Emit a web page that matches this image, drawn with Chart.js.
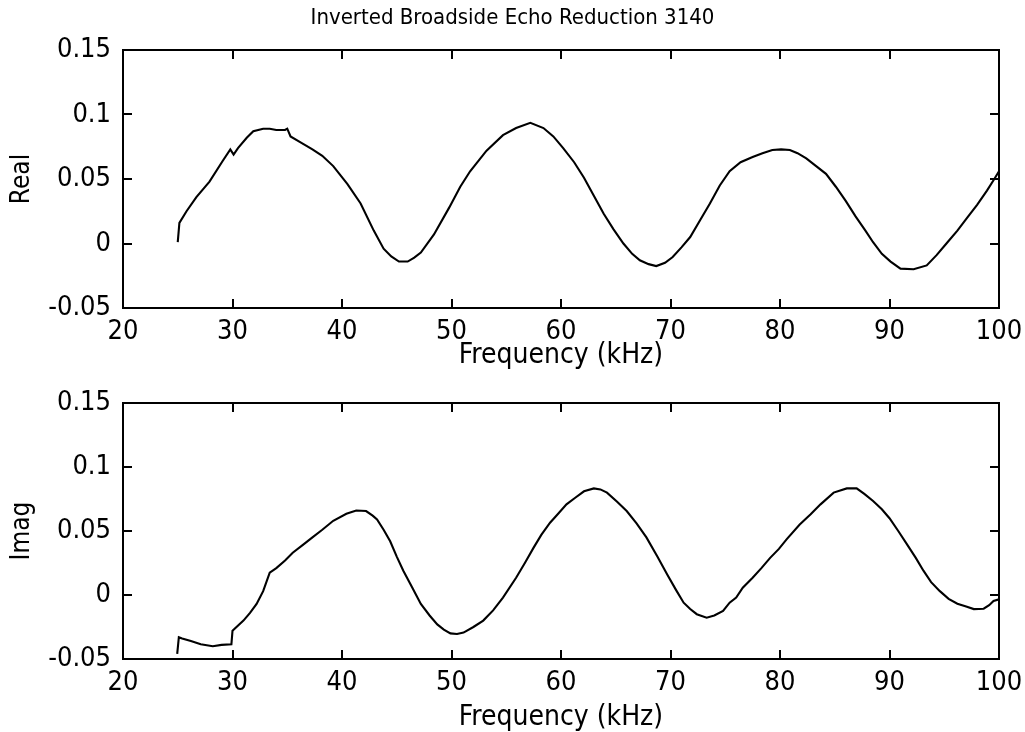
<!DOCTYPE html>
<html>
<head>
<meta charset="utf-8">
<script src="https://cdn.jsdelivr.net/npm/chart.js@4/dist/chart.umd.min.js"></script>
<style>
  html, body { margin: 0; padding: 0; background: #fff; }
  #wrap { position: relative; width: 1025px; height: 732px; }
  #c1, #c2 { position: absolute; left: 0; }
  #c1 { top: 0; }
  #c2 { top: 380px; }
</style>
</head>
<body>
<div id="wrap">
  <canvas id="c1" width="1025" height="380"></canvas>
  <canvas id="c2" width="1025" height="352"></canvas>
</div>
<script>
// frequency (kHz) and real part
const freqReal = [25.0, 25.15, 25.8, 26.7, 27.9, 29.1, 29.8, 30.1, 30.5, 31.3, 31.9, 32.8, 33.4, 34.0, 34.8, 35.0, 35.3, 36.1, 37.3, 38.2, 39.2, 40.5, 41.7, 42.9, 43.8, 44.5, 45.2, 46.0, 46.6, 47.2, 48.4, 49.8, 50.8, 51.7, 53.2, 54.7, 55.9, 57.2, 58.4, 59.3, 60.2, 61.2, 62.1, 63.0, 63.9, 64.8, 65.7, 66.5, 67.2, 68.0, 68.7, 69.5, 70.2, 71.0, 71.8, 72.7, 73.6, 74.5, 75.4, 76.4, 77.5, 78.4, 79.3, 80.1, 80.9, 81.6, 82.4, 83.3, 84.2, 85.1, 86.0, 86.9, 87.8, 88.5, 89.3, 90.1, 91.0, 92.2, 93.4, 94.3, 95.2, 96.2, 97.1, 98.0, 98.9, 99.5, 100];
const realPart = [0.001, 0.016, 0.025, 0.036, 0.048, 0.064, 0.073, 0.069, 0.074, 0.082, 0.087, 0.089, 0.089, 0.088, 0.088, 0.089, 0.083, 0.079, 0.073, 0.068, 0.060, 0.046, 0.031, 0.010, -0.004, -0.010, -0.014, -0.014, -0.011, -0.007, 0.007, 0.028, 0.044, 0.056, 0.072, 0.084, 0.0895, 0.0935, 0.0895, 0.083, 0.074, 0.063, 0.051, 0.037, 0.023, 0.011, 0.000, -0.008, -0.013, -0.016, -0.0175, -0.015, -0.0105, -0.003, 0.005, 0.018, 0.031, 0.045, 0.056, 0.063, 0.067, 0.070, 0.0725, 0.073, 0.0725, 0.070, 0.066, 0.060, 0.054, 0.044, 0.033, 0.021, 0.010, 0.001, -0.008, -0.014, -0.0195, -0.020, -0.017, -0.009, 0.000, 0.010, 0.020, 0.030, 0.041, 0.049, 0.056];

// frequency (kHz) and imaginary part
const freqImag = [24.95, 25.1, 25.4, 26.2, 27.1, 28.2, 29.0, 29.9, 30.0, 31.0, 31.6, 32.2, 32.8, 33.4, 34.0, 34.8, 35.5, 36.4, 37.3, 38.2, 39.2, 40.4, 41.3, 42.2, 42.8, 43.2, 43.8, 44.4, 45.0, 45.6, 46.4, 47.2, 48.0, 48.7, 49.3, 49.9, 50.5, 51.1, 52.0, 52.9, 53.8, 54.7, 55.9, 56.7, 57.5, 58.2, 59.0, 59.8, 60.5, 61.3, 62.1, 63.0, 63.6, 64.2, 65.1, 66.0, 66.9, 67.8, 68.8, 69.7, 70.5, 71.2, 71.8, 72.4, 73.3, 74.0, 74.8, 75.4, 76.0, 76.6, 77.5, 78.3, 79.1, 79.9, 80.6, 81.8, 82.8, 83.7, 84.9, 86.1, 87.0, 87.7, 88.5, 89.3, 90.0, 90.8, 91.6, 92.4, 93.1, 93.8, 94.6, 95.4, 96.2, 97.0, 97.7, 98.6, 99.1, 99.5, 100];
const imagPart = [-0.046, -0.033, -0.034, -0.036, -0.0385, -0.040, -0.039, -0.0385, -0.028, -0.020, -0.014, -0.007, 0.003, 0.0174, 0.021, 0.027, 0.033, 0.039, 0.045, 0.051, 0.058, 0.0635, 0.066, 0.0656, 0.062, 0.059, 0.051, 0.042, 0.030, 0.019, 0.006, -0.007, -0.016, -0.023, -0.027, -0.030, -0.0305, -0.0294, -0.025, -0.020, -0.012, -0.002, 0.0135, 0.025, 0.037, 0.047, 0.0565, 0.064, 0.0708, 0.076, 0.081, 0.0833, 0.0825, 0.080, 0.073, 0.0656, 0.056, 0.045, 0.030, 0.016, 0.004, -0.006, -0.011, -0.015, -0.0177, -0.016, -0.0125, -0.006, -0.002, 0.0057, 0.0135, 0.021, 0.029, 0.036, 0.0435, 0.055, 0.063, 0.0708, 0.080, 0.0833, 0.0833, 0.079, 0.0734, 0.067, 0.060, 0.050, 0.0396, 0.029, 0.019, 0.010, 0.003, -0.003, -0.0068, -0.009, -0.011, -0.0107, -0.008, -0.0047, -0.0034];

const xTicks = [20, 30, 40, 50, 60, 70, 80, 90, 100];
const yTicks = [-0.05, 0, 0.05, 0.1, 0.15];

const titleText = 'Inverted Broadside Echo Reduction 3140';
const xLabel = 'Frequency (kHz)';

const FONT = '"Liberation Sans Narrow", "DejaVu Sans Condensed", "Arial Narrow", "Liberation Sans", sans-serif';

// matlab style box with ticks pointing inwards
const boxPlugin = {
    id: 'box',
    afterDraw(chart) {
        const { ctx, chartArea: a, scales: { x, y } } = chart;
        const len = 9;
        ctx.save();
        ctx.strokeStyle = '#000';
        ctx.lineWidth = 2;
        ctx.beginPath();
        x.ticks.forEach(t => {
            const px = Math.round(x.getPixelForValue(t.value));
            ctx.moveTo(px, a.bottom); ctx.lineTo(px, a.bottom - len);
            ctx.moveTo(px, a.top); ctx.lineTo(px, a.top + len);
        });
        y.ticks.forEach(t => {
            const py = Math.round(y.getPixelForValue(t.value));
            ctx.moveTo(a.left, py); ctx.lineTo(a.left + len, py);
            ctx.moveTo(a.right, py); ctx.lineTo(a.right - len, py);
        });
        ctx.stroke();
        ctx.strokeRect(a.left, a.top, a.right - a.left, a.bottom - a.top);
        ctx.restore();
    }
};

function makeChart(id, freqs, vals, yName, opts) {
    const pts = freqs.map((f, i) => ({ x: f, y: vals[i] }));
    return new Chart(document.getElementById(id), {
        type: 'line',
        data: {
            datasets: [{
                data: pts,
                borderColor: '#000',
                borderWidth: 2.1,
                pointRadius: 0,
                tension: 0,
                fill: false
            }]
        },
        options: {
            responsive: false,
            animation: false,
            layout: { padding: { left: 0, right: 0, top: opts.padTop, bottom: 0 } },
            plugins: {
                legend: { display: false },
                tooltip: { enabled: false },
                title: {
                    display: opts.showTitle,
                    text: titleText,
                    color: '#000',
                    font: { family: FONT, size: 22, weight: 'normal', lineHeight: 1.2 },
                    padding: { top: 5, bottom: 18.6 }
                }
            },
            scales: {
                x: {
                    type: 'linear',
                    min: 20,
                    max: 100,
                    afterBuildTicks: s => { s.ticks = xTicks.map(v => ({ value: v })); },
                    afterFit: s => { s.height = opts.xHeight; s.paddingLeft = 0; s.paddingRight = 0; },
                    grid: { display: false, drawTicks: false },
                    border: { display: false },
                    ticks: {
                        color: '#000',
                        padding: 8,
                        maxRotation: 0,
                        font: { family: FONT, size: 27 },
                        callback: v => String(v)
                    },
                    title: {
                        display: true,
                        text: xLabel,
                        color: '#000',
                        font: { family: FONT, size: 28, lineHeight: 1 },
                        padding: { top: 0, bottom: opts.xTitlePad }
                    }
                },
                y: {
                    min: -0.05,
                    max: 0.15,
                    afterBuildTicks: s => { s.ticks = yTicks.map(v => ({ value: v })); },
                    afterFit: s => { s.width = 123; s.paddingTop = 0; s.paddingBottom = 0; },
                    grid: { display: false, drawTicks: false },
                    border: { display: false },
                    ticks: {
                        color: '#000',
                        padding: 12,
                        font: { family: FONT, size: 27 },
                        callback: v => String(+v.toFixed(2))
                    },
                    title: {
                        display: true,
                        text: yName,
                        color: '#000',
                        font: { family: FONT, size: 26, lineHeight: 1 },
                        padding: { top: 9, bottom: 0 }
                    }
                },
                // empty right-hand axis, only keeps the margin on the right
                yRight: {
                    position: 'right',
                    min: -0.05,
                    max: 0.15,
                    afterFit: s => { s.width = 26; s.paddingTop = 0; s.paddingBottom = 0; },
                    grid: { display: false, drawTicks: false },
                    border: { display: false },
                    ticks: { display: false }
                }
            }
        },
        plugins: [boxPlugin]
    });
}

makeChart('c1', freqReal, realPart, 'Real', { showTitle: true, padTop: 0, xHeight: 72, xTitlePad: 10 });
makeChart('c2', freqImag, imagPart, 'Imag', { showTitle: false, padTop: 23, xHeight: 73, xTitlePad: 0 });
</script>
</body>
</html>
